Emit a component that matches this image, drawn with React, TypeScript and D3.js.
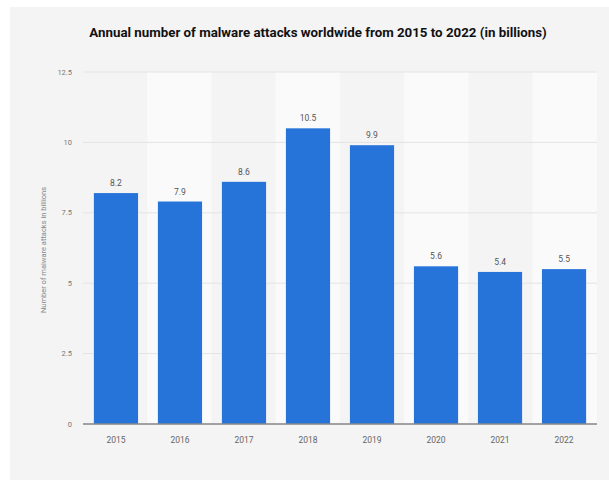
import React from "react";
import * as d3 from "d3";

const years = ["2015", "2016", "2017", "2018", "2019", "2020", "2021", "2022"];
const attacks = [8.2, 7.9, 8.6, 10.5, 9.9, 5.6, 5.4, 5.5];
const yTicks = [0, 2.5, 5, 7.5, 10, 12.5];
const yTickLabels = ["0", "2.5", "5", "7.5", "10", "12.5"];
const title = "Annual number of malware attacks worldwide from 2015 to 2022 (in billions)";
const yTitle = "Number of malware attacks in billions";

export default function App() {
  const W = 609, H = 480;
  const left = 83, right = 597, top = 72, bottom = 424;
  const x = d3.scaleBand<string>().domain(years).range([left, right]).paddingInner(0.31).paddingOuter(0.17);
  const band = d3.scaleBand<string>().domain(years).range([left, right]);
  const y = d3.scaleLinear().domain([0, 12.5]).range([bottom, top]);
  const font = "Roboto, Arial, sans-serif";
  return (
    <svg width={W} height={H} style={{ position: "absolute", left: 0, top: 0 }}>
      <rect x={0} y={0} width={W} height={H} fill="#ffffff" />
      <rect x={10} y={7} width={W - 10} height={H - 7} fill="#f4f4f4" />
      {years.map((yr, i) =>
        i % 2 === 1 ? (
          <rect key={"b" + yr} x={band(yr)} y={top} width={band.bandwidth()} height={bottom - top} fill="#fafafa" />
        ) : null
      )}
      {yTicks.map((t) => (
        <line key={"g" + t} x1={left} x2={right} y1={y(t)} y2={y(t)} stroke="#e4e4e4" strokeWidth={1} />
      ))}
      {yTicks.map((t, i) => (
        <text key={"t" + t} x={72} y={y(t)} dy="0.35em" textAnchor="end" fontSize={7.5} fill="#777" fontFamily={font}>
          {yTickLabels[i]}
        </text>
      ))}
      {years.map((yr, i) => (
        <g key={yr}>
          <rect x={x(yr)} y={y(attacks[i])} width={x.bandwidth()} height={bottom - y(attacks[i])} fill="#2673d9" />
          <text x={(x(yr) as number) + x.bandwidth() / 2} y={y(attacks[i]) - 7} textAnchor="middle" fontSize={8.5} fill="#555" fontFamily={font}>
            {attacks[i]}
          </text>
          <text x={(x(yr) as number) + x.bandwidth() / 2} y={443} textAnchor="middle" fontSize={8.5} fill="#666" fontFamily={font}>
            {yr}
          </text>
        </g>
      ))}
      <line x1={left} x2={right} y1={bottom} y2={bottom} stroke="#888" strokeWidth={1.5} />
      <text transform={`translate(46,${(top + bottom) / 2 + 2}) rotate(-90)`} textAnchor="middle" fontSize={7.5} fill="#888" fontFamily={font}>
        {yTitle}
      </text>
      <text x={318} y={37} textAnchor="middle" fontSize={13.3} fontWeight="bold" fill="#111" fontFamily={font}>
        {title}
      </text>
    </svg>
  );
}
